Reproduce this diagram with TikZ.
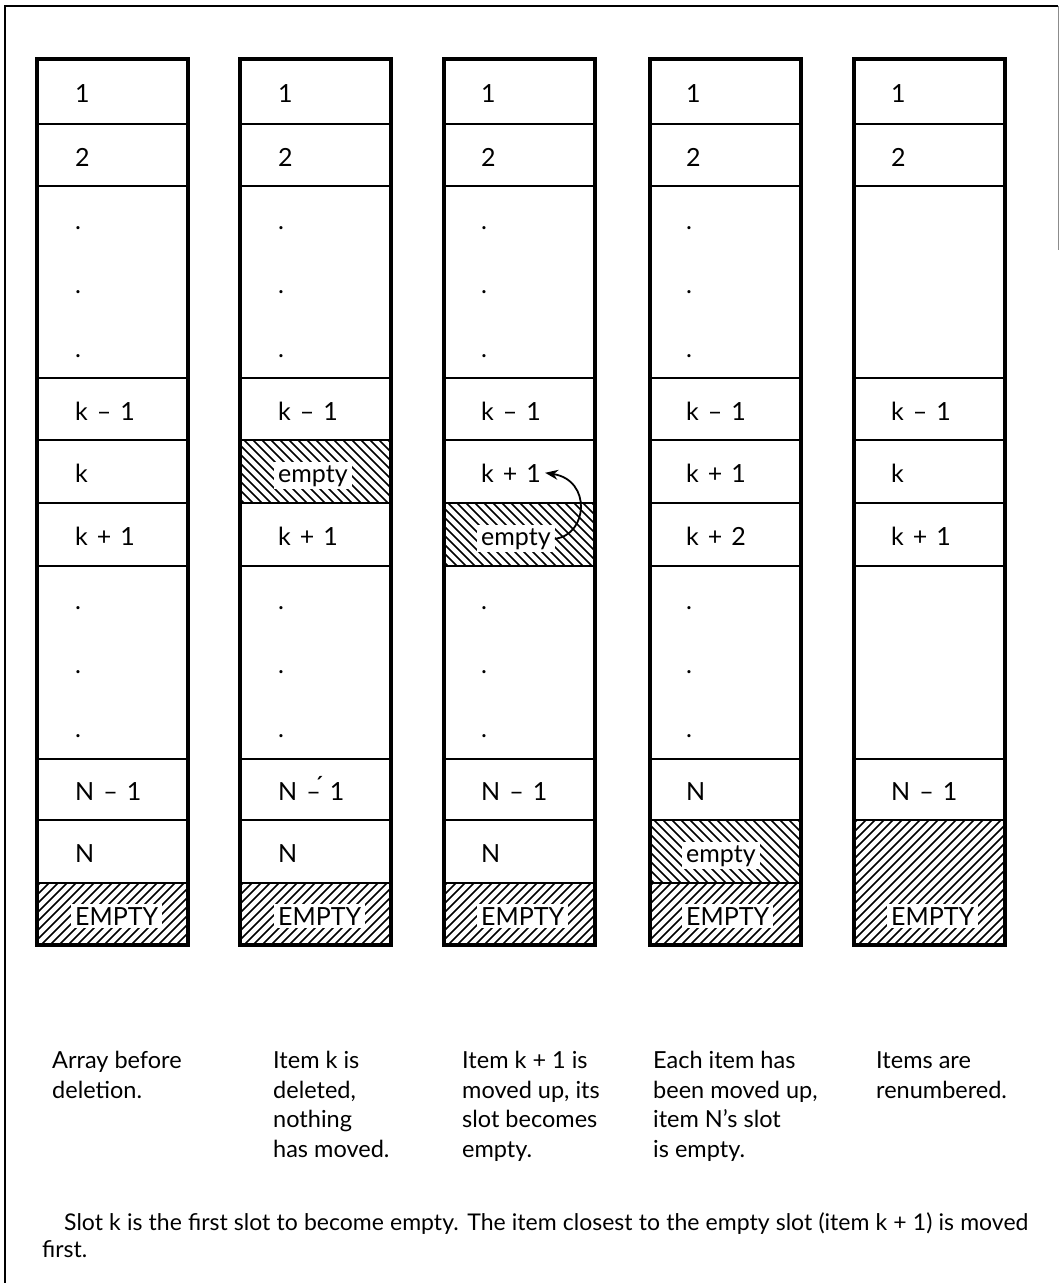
\documentclass[tikz,border=0pt]{standalone}
\usepackage{fontspec}
\setmainfont{Lato}
\usetikzlibrary{arrows.meta}
\newcommand{\hatchNE}[4]{%
  \begin{scope}
    \clip (#1,#2) rectangle (#3,#4);
    \pgfmathsetmacro{\hh}{#4-#2+20}
    \foreach \t in {-140,-131,...,170} {
      \draw[hatchline] (#1+\t-10,#4+10) -- ++(\hh,-\hh);
    }
  \end{scope}}
\newcommand{\hatchNW}[4]{%
  \begin{scope}
    \clip (#1,#2) rectangle (#3,#4);
    \pgfmathsetmacro{\hh}{#4-#2+20}
    \foreach \t in {-140,-131,...,170} {
      \draw[hatchline] (#1+\t-10,#2-10) -- ++(\hh,\hh);
    }
  \end{scope}}
\newcommand{\cellfontcmd}{\fontsize{25}{30}\selectfont\setlength{\spaceskip}{0.36em plus 0.1em}}
\newcommand{\cellat}[4]{\node[lbl] (#1) at (#2,#3) {#4};}
\newcommand{\hcellat}[4]{\node[hlbl] (#1) at (#2-4,#3) {#4};}
\newcommand{\capat}[4]{\node[captxt] (#1) at (#2,#3) {#4};}
\begin{document}
\begin{tikzpicture}[x=1pt,y=-1pt,
  hatchline/.style={line width=1.5pt, black},
  outerbox/.style={line width=3.6pt, black},
  rowline/.style={line width=2.2pt, black},
  cellfont/.style={font=\cellfontcmd},
  lbl/.style={cellfont, anchor=base west, inner sep=0pt},
  hlbl/.style={cellfont, anchor=base west, fill=white, inner xsep=4pt, inner ysep=3pt},
  captxt/.style={font=\fontsize{23.5}{28}\selectfont, anchor=base west, inner sep=0pt},
  foottxt/.style={font=\fontsize{23}{28}\selectfont, anchor=base west, inner sep=0pt},
  movearrow/.style={line width=1.8pt, -{Stealth[length=13pt,width=10pt]}},
  framel/.style={line width=2pt, black},
]
\useasboundingbox (0,0) rectangle (1059,1283);
% outer frame
\draw[framel] (5,1283) -- (5,6) -- (1058,6);
\draw[line width=0.8pt, black!45] (1058,6) -- (1058,250);

% hatching
\hatchNE{37}{883}{188}{945}
\hatchNE{240}{883}{391}{945}
\hatchNE{444}{883}{595}{945}
\hatchNE{650}{883}{801}{945}
\hatchNE{854}{820}{1005}{945}
\hatchNW{240}{440}{391}{503}
\hatchNW{444}{503}{595}{566}
\hatchNW{650}{820}{801}{883}

% columns
\foreach \L in {37,240,444,650} {
  \foreach \yy in {124,186,378,440,503,566,759,820,883}
    \draw[rowline] (\L,\yy) -- (\L+151,\yy);
  \draw[outerbox] (\L,59) rectangle (\L+151,945);
}
\foreach \yy in {124,186,378,440,503,566,759,820}
  \draw[rowline] (854,\yy) -- (1005,\yy);
\draw[outerbox] (854,59) rectangle (1005,945);

% column 1
\cellat{a1}{75}{102.5}{1}
\cellat{a2}{75}{166}{2}
\cellat{ad1}{75}{229}{.}
\cellat{ad2}{75}{293}{.}
\cellat{ad3}{75}{357}{.}
\cellat{akm}{75}{420}{k – 1}
\cellat{ak}{75}{482}{k}
\cellat{akp}{75}{545}{k + 1}
\cellat{ad4}{75}{609}{.}
\cellat{ad5}{75}{673}{.}
\cellat{ad6}{75}{737}{.}
\cellat{anm}{75}{800}{N – 1}
\cellat{an}{75}{862}{N}
\hcellat{ae}{75}{925}{EMPTY}

% column 2
\cellat{b1}{278}{102.5}{1}
\cellat{b2}{278}{166}{2}
\cellat{bd1}{278}{229}{.}
\cellat{bd2}{278}{293}{.}
\cellat{bd3}{278}{357}{.}
\cellat{bkm}{278}{420}{k – 1}
\hcellat{bk}{278}{482}{empty}
\cellat{bkp}{278}{545}{k + 1}
\cellat{bd4}{278}{609}{.}
\cellat{bd5}{278}{673}{.}
\cellat{bd6}{278}{737}{.}
\cellat{bnm}{278}{800}{N \rlap{\raisebox{0.22em}{\hspace{0.3em}\char"00B4}}– 1}
\cellat{bn}{278}{862}{N}
\hcellat{be}{278}{925}{EMPTY}

% column 3
\cellat{c1}{481}{102.5}{1}
\cellat{c2}{481}{166}{2}
\cellat{cd1}{481}{229}{.}
\cellat{cd2}{481}{293}{.}
\cellat{cd3}{481}{357}{.}
\cellat{ckm}{481}{420}{k – 1}
\cellat{ck}{481}{482}{k + 1}
\hcellat{ckp}{481}{545}{empty}
\cellat{cd4}{481}{609}{.}
\cellat{cd5}{481}{673}{.}
\cellat{cd6}{481}{737}{.}
\cellat{cnm}{481}{800}{N – 1}
\cellat{cn}{481}{862}{N}
\hcellat{ce}{481}{925}{EMPTY}
\draw[movearrow] (ckp.east) .. controls (588,535) and (592,480) .. ([xshift=4pt]ck.east);

% column 4
\cellat{d1}{686}{102.5}{1}
\cellat{d2}{686}{166}{2}
\cellat{dd1}{686}{229}{.}
\cellat{dd2}{686}{293}{.}
\cellat{dd3}{686}{357}{.}
\cellat{dkm}{686}{420}{k – 1}
\cellat{dk}{686}{482}{k + 1}
\cellat{dkp}{686}{545}{k + 2}
\cellat{dd4}{686}{609}{.}
\cellat{dd5}{686}{673}{.}
\cellat{dd6}{686}{737}{.}
\cellat{dnm}{686}{800}{N}
\hcellat{dn}{686}{862}{empty}
\hcellat{de}{686}{925}{EMPTY}

% column 5
\cellat{e1}{891}{102.5}{1}
\cellat{e2}{891}{166}{2}
\cellat{ekm}{891}{420}{k – 1}
\cellat{ek}{891}{482}{k}
\cellat{ekp}{891}{545}{k + 1}
\cellat{enm}{891}{800}{N – 1}
\hcellat{ee}{891}{925}{EMPTY}

% captions
\capat{p1a}{52}{1068}{Array before}
\capat{p1b}{52}{1098}{deletion.}
\capat{p2a}{273}{1068}{Item k is}
\capat{p2b}{273}{1098}{deleted,}
\capat{p2c}{273}{1127}{nothing}
\capat{p2d}{273}{1157}{has moved.}
\capat{p3a}{462}{1068}{Item k + 1 is}
\capat{p3b}{462}{1098}{moved up, its}
\capat{p3c}{462}{1127}{slot becomes}
\capat{p3d}{462}{1157}{empty.}
\capat{p4a}{653}{1068}{Each item has}
\capat{p4b}{653}{1098}{been moved up,}
\capat{p4c}{653}{1127}{item N’s slot}
\capat{p4d}{653}{1157}{is empty.}
\capat{p5a}{876}{1068}{Items are}
\capat{p5b}{876}{1098}{renumbered.}

\node[foottxt] (ft1) at (64,1230) {\makebox[964pt][s]{Slot k is the first slot to become empty. The item closest to the empty slot (item k + 1) is moved}};
\node[foottxt] (ft2) at (42,1257) {first.};
\end{tikzpicture}
\end{document}
